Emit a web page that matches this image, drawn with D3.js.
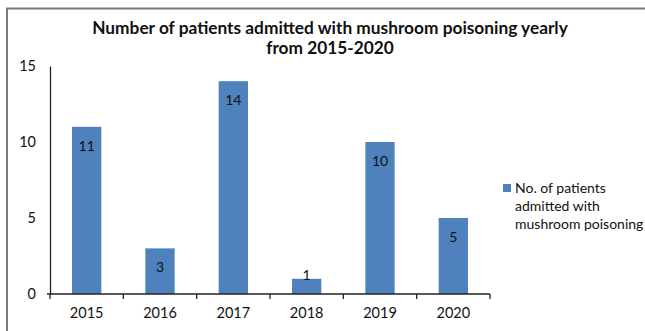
<!DOCTYPE html>
<html>
<head>
<meta charset="utf-8">
<script src="https://cdn.jsdelivr.net/npm/d3@7"></script>
<style>
  body { margin: 0; background: #fff; }
  svg { display: block; font-family: Lato, "Open Sans", sans-serif; }
</style>
</head>
<body>
<div id="chart"></div>
<script>
const years = ['2015', '2016', '2017', '2018', '2019', '2020'];
const patients = [11, 3, 14, 1, 10, 5];
const yTicks = [0, 5, 10, 15];
const titleLines = ['Number of patients admitted with mushroom poisoning yearly', 'from 2015-2020'];
const legendLines = ['No. of patients', 'admitted with', 'mushroom poisoning'];

const width = 645, height = 331;
const margin = { top: 66, right: 155, bottom: 37, left: 50 };

const svg = d3.select('#chart')
    .append('svg')
    .attr('width', width)
    .attr('height', height);

// chart frame (right and bottom edges fall outside the picture)
svg.append('rect')
    .attr('x', 7).attr('y', 8.5)
    .attr('width', 700).attr('height', 400)
    .attr('fill', 'none')
    .attr('stroke', '#7a7a7a')
    .attr('stroke-width', 2);

const x = d3.scaleBand()
    .domain(years)
    .range([margin.left, width - margin.right])
    .paddingInner(0.6)
    .paddingOuter(0.3);

const y = d3.scaleLinear()
    .domain([0, 15])
    .range([height - margin.bottom, margin.top]);

// title
svg.append('text')
    .attr('text-anchor', 'middle')
    .attr('font-weight', 'bold')
    .attr('font-size', 17.3)
    .attr('fill', '#111')
    .selectAll('tspan')
    .data(titleLines)
    .join('tspan')
    .attr('x', 330)
    .attr('y', (d, i) => 34 + i * 20)
    .text(d => d);

// bars
svg.append('g')
    .selectAll('rect')
    .data(patients)
    .join('rect')
    .attr('x', (d, i) => x(years[i]))
    .attr('y', d => y(d))
    .attr('width', x.bandwidth())
    .attr('height', d => y(0) - y(d))
    .attr('fill', '#4f81bd');

// value labels, inside the bar end (above it if the bar is too short)
svg.append('g')
    .selectAll('text')
    .data(patients)
    .join('text')
    .attr('x', (d, i) => x(years[i]) + x.bandwidth() / 2)
    .attr('y', d => Math.min(y(d) + 19, y(0) - 19))
    .attr('dy', '0.35em')
    .attr('text-anchor', 'middle')
    .attr('font-size', 14)
    .attr('fill', '#111')
    .text(d => d);

// y axis: line and labels only
const yAxis = svg.append('g')
    .attr('transform', `translate(${margin.left},0)`)
    .call(d3.axisLeft(y).tickValues(yTicks).tickSize(0).tickPadding(14));
yAxis.select('.domain').attr('stroke', '#222').attr('stroke-width', 1.3);
yAxis.selectAll('text').attr('font-size', 14.5).attr('fill', '#111').attr('font-family', 'Lato, sans-serif');

// x axis with ticks between categories
const xAxis = svg.append('g')
    .attr('transform', `translate(0,${y(0)})`);
xAxis.append('line')
    .attr('x1', margin.left - 3).attr('x2', width - margin.right)
    .attr('stroke', '#222').attr('stroke-width', 1.3);
xAxis.selectAll('.tk')
    .data(d3.range(years.length + 1))
    .join('line')
    .attr('class', 'tk')
    .attr('x1', i => margin.left + i * x.step())
    .attr('x2', i => margin.left + i * x.step())
    .attr('y1', 0).attr('y2', 5)
    .attr('stroke', '#222').attr('stroke-width', 1.3);
xAxis.selectAll('.lbl')
    .data(years)
    .join('text')
    .attr('class', 'lbl')
    .attr('x', d => x(d) + x.bandwidth() / 2)
    .attr('y', 24)
    .attr('text-anchor', 'middle')
    .attr('font-size', 14.5)
    .attr('fill', '#111')
    .text(d => d);

// legend
const legend = svg.append('g').attr('transform', 'translate(503,184)');
legend.append('rect')
    .attr('width', 8).attr('height', 8)
    .attr('fill', '#4f81bd');
legend.append('text')
    .attr('font-size', 14)
    .attr('fill', '#111')
    .selectAll('tspan')
    .data(legendLines)
    .join('tspan')
    .attr('x', 12)
    .attr('y', (d, i) => 9 + i * 18)
    .text(d => d);
</script>
</body>
</html>
